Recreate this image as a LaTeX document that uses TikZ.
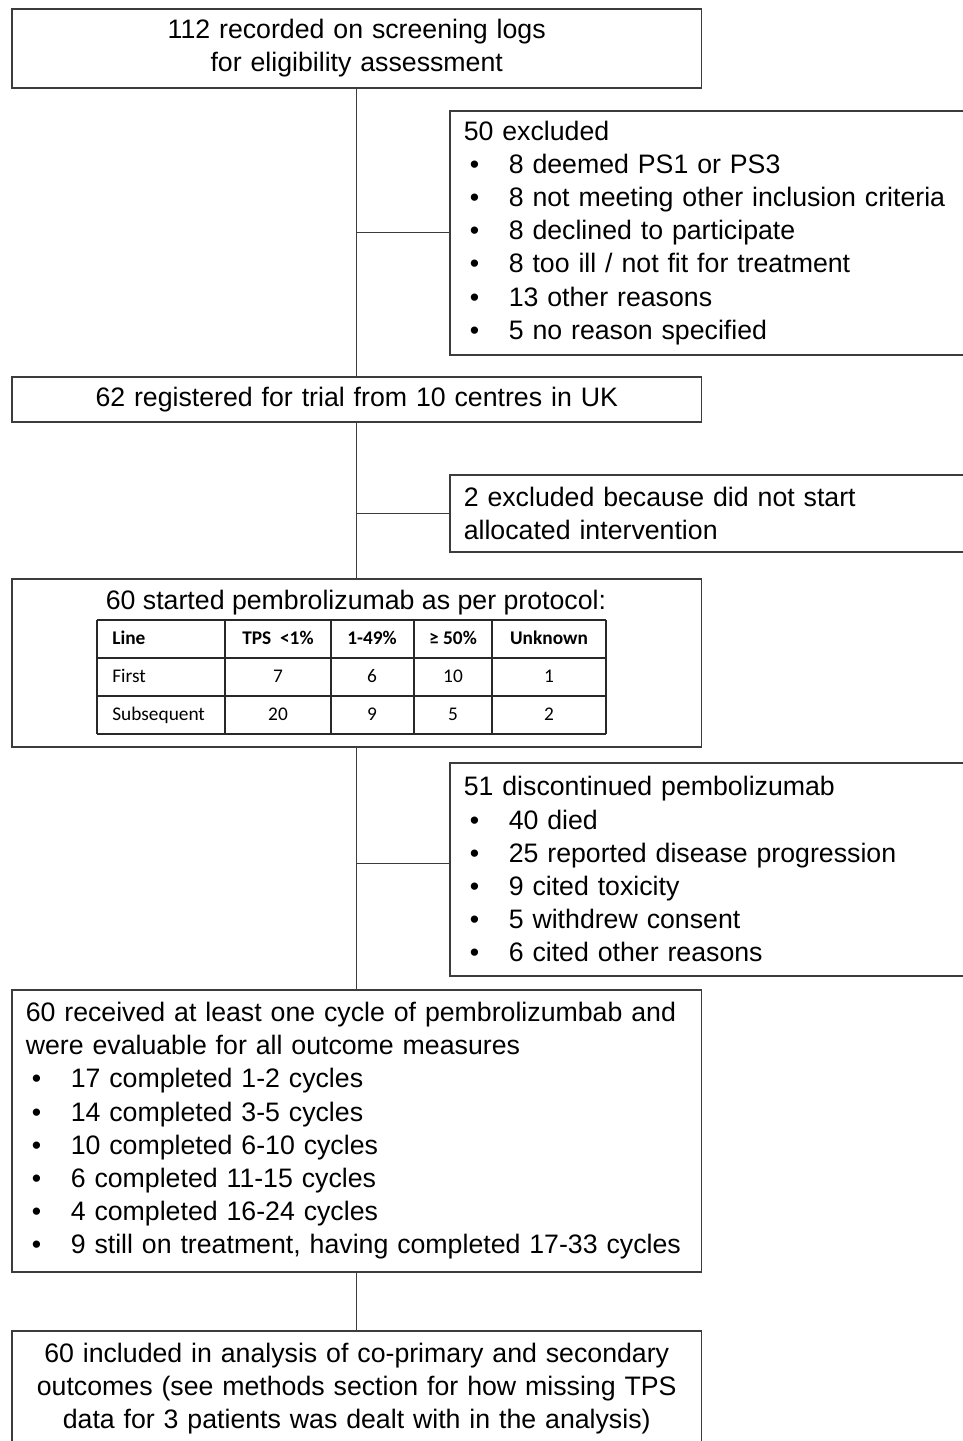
\documentclass[tikz,border=0pt]{standalone}
\usepackage{fontspec}
\setmainfont{Liberation Sans}
\newfontfamily\tabfont{Carlito}
\usetikzlibrary{positioning,calc}
\definecolor{xLine}{RGB}{60,60,60}
\definecolor{xTable}{RGB}{40,40,40}
\newcommand{\boxfont}{\fontsize{15.2}{18.9}\selectfont\hyphenpenalty=10000\relax}
\newcommand{\itm}[1]{\hspace*{0.12cm}\makebox[0.78cm][l]{\textbullet}#1}

\begin{document}
\begin{tikzpicture}[x=0.02cm,y=-0.02cm,
    box/.style={draw=xLine, line width=0.9pt, anchor=north west, inner xsep=0.28cm, inner ysep=0pt,
      font=\boxfont},
    midbox/.style={box, minimum width=13.8cm, text width=13.24cm, align=center},
    sidebox/.style={box, minimum width=10.3cm, text width=9.74cm, align=left},
    link/.style={draw=xLine, line width=0.7pt},
    tabline/.style={draw=xTable, line width=1pt},
    cell/.style={font=\tabfont\fontsize{11}{13}\selectfont, inner sep=0pt, anchor=base}]
    \useasboundingbox (0,0) rectangle (963,1441);

    % main column
    \node[midbox, minimum height=1.58cm] (screen) at (11,8)
      {112 recorded on screening logs\\for eligibility assessment};
    \node[midbox, minimum height=0.9cm] (reg) at (11,376)
      {62 registered for trial  from 10 centres in UK};
    \node[midbox, minimum height=3.36cm] (start) at (11,578) {};
    \node[midbox, minimum height=5.64cm, align=left] (cycles) at (11,989)
      {60 received at least one cycle of pembrolizumbab and\\
       were evaluable for all outcome measures\\
       \itm{17 completed 1-2 cycles}\\
       \itm{14 completed 3-5 cycles}\\
       \itm{10 completed 6-10 cycles}\\
       \itm{6 completed 11-15 cycles}\\
       \itm{4 completed 16-24 cycles}\\
       \itm{9 still on treatment, having completed 17-33 cycles}};
    \node[midbox, minimum height=2.32cm] (analysis) at (11,1330)
      {60 included in analysis of co-primary and secondary\\
       outcomes (see methods section for how missing TPS\\
       data for 3 patients was dealt with in the analysis)};

    % side boxes
    \node[sidebox, minimum height=4.88cm] (excl) at (449,110)
      {50 excluded\\
       \itm{8 deemed PS1 or PS3}\\
       \itm{8 not meeting other inclusion criteria}\\
       \itm{8 declined to participate}\\
       \itm{8 too ill / not fit for treatment}\\
       \itm{13 other reasons}\\
       \itm{5 no reason specified}};
    \node[sidebox, minimum height=1.54cm] (nostart) at (449,474)
      {2 excluded because did not start\\allocated intervention};
    \node[sidebox, minimum height=4.26cm] (disc) at (449,762)
      {51 discontinued pembolizumab\\
       \itm{40 died}\\
       \itm{25 reported disease progression}\\
       \itm{9 cited toxicity}\\
       \itm{5 withdrew consent}\\
       \itm{6 cited other reasons}};

    % table in the start box
    \node[font=\boxfont, inner sep=0pt] (startlbl) at (356,603)
      {60 started pembrolizumab as per protocol:};
    \foreach \x in {97,225,331,414,492,606}
      \draw[tabline] (\x,620) -- (\x,734);
    \foreach \y in {620,658,696,734}
      \draw[tabline] (97,\y) -- (606,\y);
    \node[cell, anchor=base west] (hline) at (112,644) {\bfseries Line};
    \node[cell, anchor=base west] (rfirst) at (112,682) {First};
    \node[cell, anchor=base west] (rsub) at (112,720) {Subsequent};
    \foreach \cx/\h/\a/\b [count=\i] in {278/{TPS\ \ <1\%}/7/20, 372/{1-49\%}/6/9,
        453/{≥ 50\%}/10/5, 549/{Unknown}/1/2} {
      \node[cell] (h\i) at (\cx,644) {\bfseries\h};
      \node[cell] (f\i) at (\cx,682) {\a};
      \node[cell] (s\i) at (\cx,720) {\b};
    }

    % connectors
    \draw[link] (screen.south) -- (reg.north);
    \draw[link] (reg.south) -- (start.north);
    \draw[link] (start.south) -- (cycles.north);
    \draw[link] (cycles.south) -- (analysis.north);
    \draw[link] (excl.west -| screen.south) -- (excl.west);
    \draw[link] (nostart.west -| screen.south) -- (nostart.west);
    \draw[link] ($(disc.west)+(0,-6)$) coordinate (dtap) -- (dtap -| screen.south);
\end{tikzpicture}
\end{document}
